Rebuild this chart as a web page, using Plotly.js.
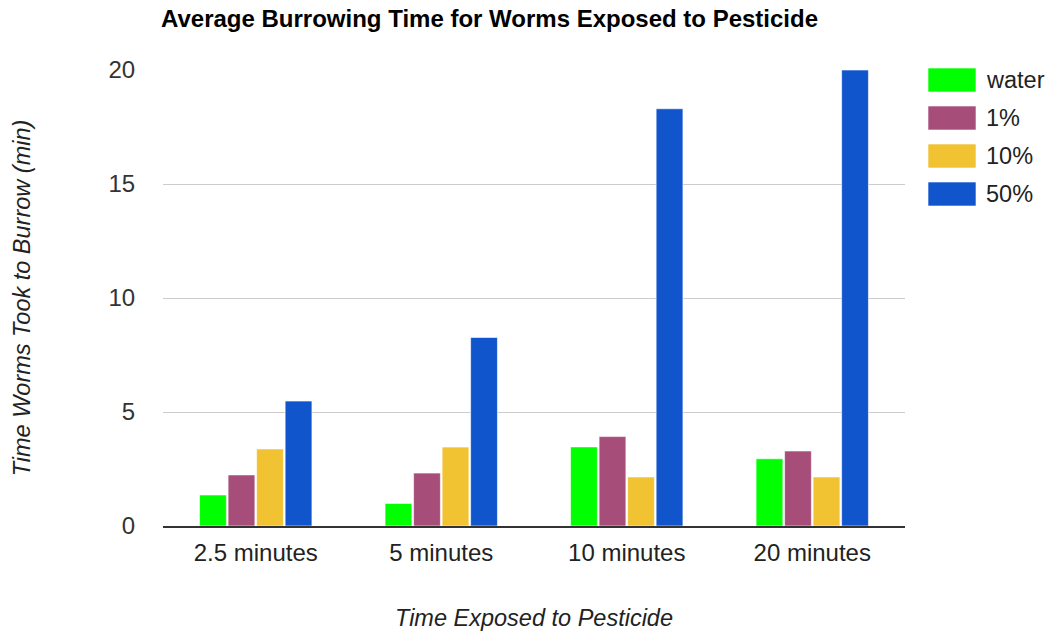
<!DOCTYPE html>
<html><head><meta charset="utf-8">
<script src="https://cdn.plot.ly/plotly-3.0.1.min.js"></script>
<style>html,body{margin:0;padding:0;background:#fff;}#chart{width:1049px;height:633px;}</style>
</head><body><div id="chart"></div>
<script>
const categories = ["2.5 minutes", "5 minutes", "10 minutes", "20 minutes"];
const seriesNames = ["water", "1%", "10%", "50%"];
const water = [1.36, 0.99, 3.47, 2.95];
const pct1 = [2.24, 2.32, 3.92, 3.29];
const pct10 = [3.38, 3.46, 2.15, 2.15];
const pct50 = [5.48, 8.27, 18.3, 20.0];
const colors = ["#00ff00", "#a64d79", "#f1c232", "#1155cc"];
const yTicks = [0, 5, 10, 15, 20];

const FONT = "Liberation Sans, Arial, Helvetica, sans-serif";
const values = [water, pct1, pct10, pct50];
const traces = values.map((v, i) => ({
  type: "bar", x: categories, y: v, name: seriesNames[i],
  marker: {color: colors[i], line: {color: "rgba(255,255,255,0.6)", width: 1}},
  showlegend: false, hoverinfo: "skip"
}));

const shapes = [], annotations = [];
const legTop = 68, legStep = 38, H = 633, W = 1049;
const PL = 163, PR = 905, PT = 70, PB = 526;
seriesNames.forEach((n, i) => {
  const y0 = legTop + i * legStep;
  shapes.push({type: "rect", xref: "paper", yref: "paper",
    x0: (928 - PL) / (PR - PL), x1: (976 - PL) / (PR - PL),
    y0: (PB - y0) / (PB - PT), y1: (PB - (y0 + 24)) / (PB - PT),
    fillcolor: colors[i], line: {color: "rgba(255,255,255,0.6)", width: 1}});
  annotations.push({xref: "paper", yref: "paper", x: (984 - PL) / (PR - PL),
    y: (PB - (y0 + 12)) / (PB - PT), xanchor: "left", yanchor: "middle",
    text: n, showarrow: false, font: {size: 23.5, color: "#222", family: FONT}});
});

const layout = {
  width: W, height: H,
  margin: {l: PL, r: W - PR, t: PT, b: H - PB},
  paper_bgcolor: "#fff", plot_bgcolor: "#fff",
  font: {family: FONT, color: "#222", size: 24},
  title: {text: "<b>Average Burrowing Time for Worms Exposed to Pesticide</b>",
    x: 161 / W, xanchor: "left", xref: "container", y: 1 - 19 / H, yanchor: "middle", yref: "container",
    font: {size: 24, color: "#000", family: FONT}},
  barmode: "group", bargap: 0.385, bargroupgap: 0.06,
  xaxis: {type: "category", tickfont: {size: 24, color: "#222"}, ticks: "outside", ticklen: 4, tickcolor: "rgba(0,0,0,0)",
    showline: true, linecolor: "#333", linewidth: 2, showgrid: false,
    title: {text: "<i>Time Exposed to Pesticide</i>", font: {size: 23.5, color: "#222"}, standoff: 45}},
  yaxis: {range: [0, 20], tickvals: yTicks, ticktext: yTicks.map(String),
    tickfont: {size: 24, color: "#333"}, gridcolor: "#cccccc", gridwidth: 1,
    zeroline: false, showline: false, ticks: "outside", ticklen: 22, tickcolor: "rgba(0,0,0,0)",
    title: {text: "<i>Time Worms Took to Burrow (min)</i>", font: {size: 23.5, color: "#222"}, standoff: 71}},
  shapes: shapes, annotations: annotations
};
Plotly.newPlot("chart", traces, layout, {displayModeBar: false, staticPlot: true});
</script></body></html>
